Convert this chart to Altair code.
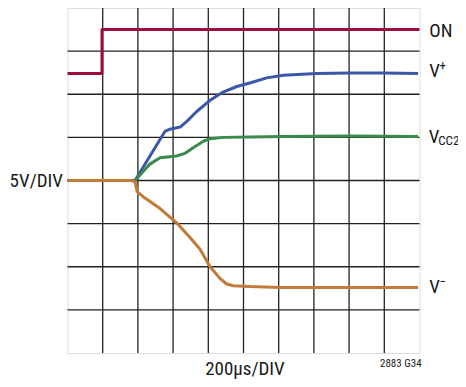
import altair as alt
import pandas as pd

# ---- data (in scope divisions: x 0..10, y -4..4) ----
on_x = [0.0, 0.98, 0.98, 10.0]
on_y = [2.48, 2.48, 3.50, 3.50]

vplus_x = [0.0, 1.92, 2.77, 2.91, 3.20, 3.39, 3.67, 4.05, 4.42, 4.81, 5.18, 5.66, 6.13, 7.08, 8.03, 8.96, 9.96]
vplus_y = [0.0, 0.0, 1.14, 1.19, 1.24, 1.37, 1.60, 1.86, 2.05, 2.18, 2.26, 2.38, 2.44, 2.48, 2.49, 2.49, 2.48]

vcc2_x = [1.92, 2.34, 2.63, 3.10, 3.34, 3.57, 3.86, 4.05, 4.43, 5.18, 6.12, 8.03, 9.96]
vcc2_y = [0.0, 0.38, 0.53, 0.57, 0.63, 0.76, 0.91, 0.97, 1.00, 1.01, 1.02, 1.03, 1.02]

vminus_x = [0.0, 1.82, 1.92, 1.98, 2.15, 2.63, 3.10, 3.48, 3.76, 4.05, 4.33, 4.52, 4.71, 5.18, 6.04, 7.08, 9.96]
vminus_y = [0.0, 0.0, -0.03, -0.26, -0.375, -0.65, -0.98, -1.32, -1.59, -2.0, -2.27, -2.40, -2.44, -2.46, -2.48, -2.48, -2.48]

grid_x = [1, 2, 3, 4, 5, 6, 7, 8, 9]
grid_y = [-3, -2, -1, 0, 1, 2, 3]

# labels
main_labels = ["ON", "V", "V", "V"]
main_lx = [10.28, 10.28, 10.26, 10.28]
main_ly = [3.46, 2.53, 1.02, -2.48]
small_labels = ["+", "CC2", "−"]
small_lx = [10.57, 10.53, 10.57]
small_ly = [2.66, 0.91, -2.36]

FONT = "Roboto Condensed, Liberation Sans Narrow, Roboto, sans-serif"

xs = alt.Scale(domain=[0, 10], nice=False, zero=False)
ys = alt.Scale(domain=[-4, 4], nice=False, zero=False)


def trace(xv, yv, color):
    df = pd.DataFrame({"x": xv, "y": yv, "i": list(range(len(xv)))})
    return alt.Chart(df).mark_line(color=color, strokeWidth=3, strokeJoin="round", strokeCap="butt").encode(
        x=alt.X("x:Q", scale=xs, axis=None),
        y=alt.Y("y:Q", scale=ys, axis=None),
        order="i:Q",
    )


def label(texts, lx, ly, size, align):
    df = pd.DataFrame({"t": texts, "x": lx, "y": ly})
    return alt.Chart(df).mark_text(
        font=FONT, fontSize=size, align=align, baseline="middle", color="#1a1a1a"
    ).encode(x=alt.X("x:Q", scale=xs, axis=None), y=alt.Y("y:Q", scale=ys, axis=None), text="t:N")


vgrid = alt.Chart(pd.DataFrame({"gx": grid_x})).mark_rule(color="#222222", strokeWidth=1.3).encode(
    x=alt.X("gx:Q", scale=xs, axis=None)
)
hgrid = alt.Chart(pd.DataFrame({"gy": grid_y})).mark_rule(color="#222222", strokeWidth=1.3).encode(
    y=alt.Y("gy:Q", scale=ys, axis=None)
)

chart = alt.layer(
    vgrid,
    hgrid,
    trace(on_x, on_y, "#9b0d3e"),
    trace(vplus_x, vplus_y, "#3b57a8"),
    trace(vcc2_x, vcc2_y, "#3a8a4c"),
    trace(vminus_x, vminus_y, "#c27a38"),
    label(main_labels, main_lx, main_ly, 19, "left"),
    label(small_labels, small_lx, small_ly, 13, "left"),
    label(["5V/DIV"], [-0.13], [0.0], 19, "right"),
    label(["200µs/DIV"], [5.04], [-4.38], 19, "center"),
    label(["2883 G34"], [10.06], [-4.26], 11, "right"),
).properties(
    width=352,
    height=345,
    padding={"left": 59.5, "top": 0, "right": 38.5, "bottom": 26},
    autosize=alt.AutoSizeParams(type="none"),
).configure_view(
    stroke="#111111", strokeWidth=2
).configure(background="white")

chart.save("out.html", embed_options={"renderer": "svg", "actions": False})
